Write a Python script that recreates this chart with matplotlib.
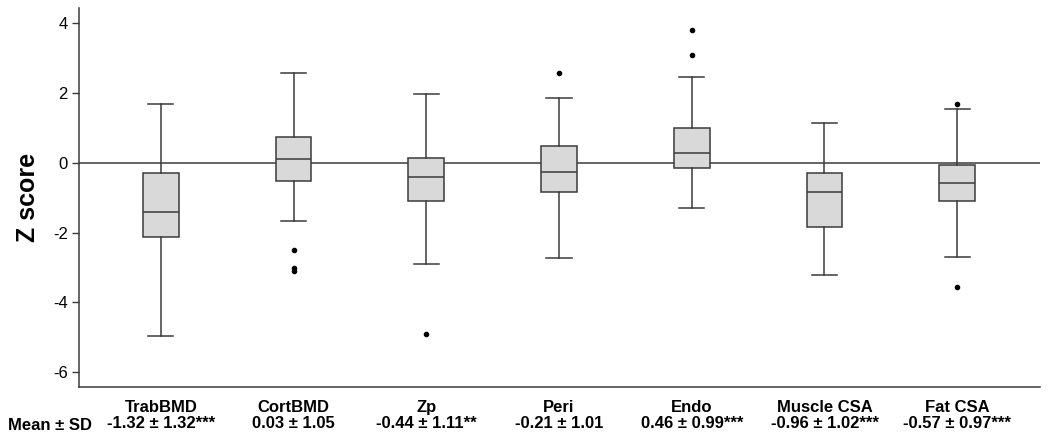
import matplotlib
matplotlib.use("Agg")
import matplotlib.pyplot as plt

plt.rcParams['font.family'] = ['Liberation Sans', 'DejaVu Sans']
plt.rcParams['axes.unicode_minus'] = False

categories = ["TrabBMD", "CortBMD", "Zp", "Peri", "Endo", "Muscle CSA", "Fat CSA"]
mean_sd = ["-1.32 ± 1.32***", "0.03 ± 1.05", "-0.44 ± 1.11**", "-0.21 ± 1.01",
           "0.46 ± 0.99***", "-0.96 ± 1.02***", "-0.57 ± 0.97***"]

whisker_low = [-4.97, -1.66, -2.90, -2.74, -1.30, -3.23, -2.71]
q1 = [-2.13, -0.51, -1.10, -0.84, -0.14, -1.84, -1.10]
median = [-1.42, 0.10, -0.40, -0.27, 0.27, -0.83, -0.59]
q3 = [-0.30, 0.73, 0.13, 0.47, 1.00, -0.30, -0.07]
whisker_high = [1.70, 2.58, 1.96, 1.87, 2.47, 1.13, 1.54]
outliers = [[], [-2.51, -3.03, -3.09], [-4.92], [2.58], [3.08, 3.82], [], [1.68, -3.55]]

line_col = "#3a3a3a"

stats = []
for i in range(len(categories)):
    stats.append(dict(label=categories[i], whislo=whisker_low[i], q1=q1[i], med=median[i],
                      q3=q3[i], whishi=whisker_high[i], fliers=outliers[i]))

fig = plt.figure(figsize=(10.5, 4.38), dpi=100)
ax = fig.add_axes([0.0752, 0.1164, 0.9148, 0.8653])

ax.axhline(0, color=line_col, lw=1.1, zorder=1)

ax.bxp(stats, positions=range(1, 8), widths=0.27, capwidths=0.19, patch_artist=True,
       boxprops=dict(facecolor="#d9d9d9", edgecolor=line_col, lw=1.1),
       medianprops=dict(color=line_col, lw=1.1),
       whiskerprops=dict(color=line_col, lw=1.1),
       capprops=dict(color=line_col, lw=1.1),
       flierprops=dict(marker="o", markersize=3, markerfacecolor="black",
                       markeredgecolor="black"),
       zorder=2)

ax.set_xlim(0.383, 7.62)
ax.set_ylim(-6.43, 4.44)
ax.set_yticks([-6, -4, -2, 0, 2, 4])
ax.tick_params(axis="y", labelsize=12, length=5, width=1.0, color=line_col, pad=3)
ax.set_xticks(range(1, 8))
ax.set_xticklabels([c + "\n" + m for c, m in zip(categories, mean_sd)],
                   fontsize=12, fontweight="bold", linespacing=1.15)
ax.tick_params(axis="x", length=0, pad=9)

for s in ["top", "right"]:
    ax.spines[s].set_visible(False)
for s in ["left", "bottom"]:
    ax.spines[s].set_color(line_col)
    ax.spines[s].set_linewidth(1.1)

ax.set_ylabel("Z score", fontsize=18, fontweight="bold", labelpad=9)

fig.text(50 / 1050, 1 - 425 / 438, "Mean ± SD", ha="center", va="center",
         fontsize=12, fontweight="bold")

fig.savefig("out.png", dpi=100)
